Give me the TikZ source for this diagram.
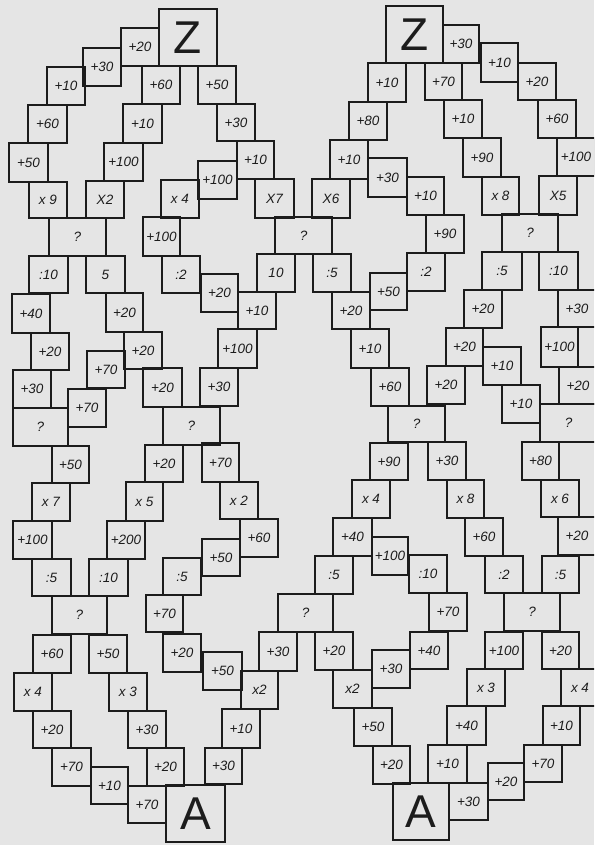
\documentclass[tikz,border=0pt]{standalone}
\usepackage{fontspec}
\setmainfont{Liberation Sans}
\definecolor{paper}{RGB}{229,229,229}
\definecolor{ink}{RGB}{28,28,28}
\tikzset{
  cell/.style={draw=ink, line width=1.4pt, rectangle, inner sep=0pt, outer sep=0pt,
    text=ink, font=\fontsize{13.5}{14}\selectfont\itshape},
  bigcell/.style={font=\fontsize{46}{46}\selectfont}
}
\newcommand\cellbox[7][]{\node[cell,#1,minimum width={(#5-#3)*1pt},minimum height={(#6-#4)*1pt}] (#2) at ({(#3+#5)/2},{(#4+#6)/2}) {#7};}
\begin{document}
\begin{tikzpicture}[x=1pt,y=-1pt]
\fill[paper] (0,0) rectangle (594,845);
\clip (0,0) rectangle (594,845);
\useasboundingbox (0,0) rectangle (594,845);
% ---------------- left diamond, top
\cellbox[bigcell]{zl}{159}{9}{217}{66}{Z}
\cellbox{c1}{121}{28}{159}{66}{+20}
\cellbox{c2}{83}{48}{121}{86}{+30}
\cellbox{c3}{47}{67}{85}{105}{+10}
\cellbox{c4}{28}{105}{67}{143}{+60}
\cellbox{c5}{9}{143}{48}{182}{+50}
\cellbox{c6}{29}{182}{67}{218}{x 9}
\cellbox{c7}{142}{66}{180}{104}{+60}
\cellbox{c8}{123}{104}{162}{143}{+10}
\cellbox{c9}{104}{143}{143}{181}{+100}
\cellbox{c10}{86}{181}{124}{218}{X2}
\cellbox{c11}{198}{66}{236}{104}{+50}
\cellbox{c12}{217}{104}{255}{141}{+30}
\cellbox{c13}{237}{141}{274}{179}{+10}
\cellbox{c14}{255}{179}{294}{218}{X7}
\cellbox{c15}{198}{161}{237}{199}{+100}
\cellbox{c16}{161}{180}{199}{218}{x 4}
\cellbox{c17}{143}{217}{180}{256}{+100}
\cellbox{c18}{162}{256}{200}{293}{:2}
\cellbox{c19}{49}{218}{106}{256}{?}
\cellbox{c20}{29}{256}{68}{293}{:10}
\cellbox{c21}{86}{256}{125}{293}{5}
\cellbox{c22}{12}{294}{50}{333}{+40}
\cellbox{c23}{31}{333}{69}{370}{+20}
\cellbox{c24}{13}{370}{51}{408}{+30}
\cellbox{c25}{13}{408}{68}{446}{?}
\cellbox{c26}{106}{293}{143}{332}{+20}
\cellbox{c27}{124}{332}{162}{369}{+20}
\cellbox{c28}{87}{351}{125}{388}{+70}
\cellbox{c29}{68}{389}{106}{427}{+70}
\cellbox{c30}{143}{368}{182}{407}{+20}
\cellbox{c31}{163}{407}{220}{445}{?}
% ---------------- centre top
\cellbox{c32}{275}{217}{332}{254}{?}
\cellbox{c33}{257}{254}{295}{292}{10}
\cellbox{c34}{313}{254}{351}{292}{:5}
\cellbox{c35}{201}{274}{238}{312}{+20}
\cellbox{c36}{238}{292}{276}{329}{+10}
\cellbox{c37}{218}{329}{257}{368}{+100}
\cellbox{c38}{200}{368}{238}{406}{+30}
\cellbox{c39}{332}{292}{370}{329}{+20}
\cellbox{c40}{351}{329}{389}{368}{+10}
\cellbox{c41}{371}{368}{409}{406}{+60}
\cellbox{c42}{370}{273}{407}{310}{+50}
% ---------------- left diamond, bottom
\cellbox{c43}{52}{446}{89}{483}{+50}
\cellbox{c44}{32}{483}{70}{521}{x 7}
\cellbox{c45}{13}{521}{52}{559}{+100}
\cellbox{c46}{32}{559}{71}{596}{:5}
\cellbox{c47}{52}{596}{107}{634}{?}
\cellbox{c48}{89}{559}{128}{596}{:10}
\cellbox{c49}{107}{521}{145}{559}{+200}
\cellbox{c50}{126}{482}{163}{521}{x 5}
\cellbox{c51}{145}{445}{183}{482}{+20}
\cellbox{c52}{202}{443}{239}{482}{+70}
\cellbox{c53}{220}{482}{258}{519}{x 2}
\cellbox{c54}{240}{519}{278}{557}{+60}
\cellbox{c55}{202}{539}{240}{576}{+50}
\cellbox{c56}{163}{558}{201}{595}{:5}
\cellbox{c57}{146}{595}{183}{632}{+70}
\cellbox{c58}{163}{634}{201}{672}{+20}
\cellbox{c59}{33}{635}{71}{673}{+60}
\cellbox{c60}{89}{635}{127}{673}{+50}
\cellbox{c61}{14}{673}{52}{711}{x 4}
\cellbox{c62}{109}{673}{147}{711}{x 3}
\cellbox{c63}{33}{711}{71}{748}{+20}
\cellbox{c64}{128}{711}{166}{748}{+30}
\cellbox{c65}{52}{748}{91}{786}{+70}
\cellbox{c66}{147}{748}{184}{786}{+20}
\cellbox{c67}{91}{767}{128}{804}{+10}
\cellbox{c68}{128}{786}{166}{823}{+70}
\cellbox[bigcell]{al}{166}{785}{225}{842}{A}
\cellbox{c69}{205}{748}{242}{784}{+30}
\cellbox{c70}{222}{709}{260}{748}{+10}
\cellbox{c71}{241}{671}{278}{709}{x2}
\cellbox{c72}{259}{632}{297}{671}{+30}
\cellbox{c73}{203}{652}{242}{690}{+50}
% ---------------- centre bottom and right diamond, bottom
\cellbox{c74}{278}{594}{333}{632}{?}
\cellbox{c75}{315}{556}{353}{594}{:5}
\cellbox{c76}{333}{518}{372}{556}{+40}
\cellbox{c77}{352}{480}{390}{518}{x 4}
\cellbox{c78}{370}{443}{408}{480}{+90}
\cellbox{c79}{372}{537}{408}{575}{+100}
\cellbox{c80}{409}{555}{447}{593}{:10}
\cellbox{c81}{429}{593}{467}{631}{+70}
\cellbox{c82}{410}{632}{448}{669}{+40}
\cellbox{c83}{372}{650}{410}{688}{+30}
\cellbox{c84}{315}{632}{353}{670}{+20}
\cellbox{c85}{333}{670}{372}{708}{x2}
\cellbox{c86}{354}{708}{392}{746}{+50}
\cellbox{c87}{373}{746}{410}{784}{+20}
\cellbox[bigcell]{ar}{393}{783}{449}{840}{A}
\cellbox{c88}{428}{745}{467}{783}{+10}
\cellbox{c89}{447}{706}{486}{745}{+40}
\cellbox{c90}{467}{669}{505}{706}{x 3}
\cellbox{c91}{485}{632}{523}{669}{+100}
\cellbox{c92}{504}{593}{560}{631}{?}
\cellbox{c93}{485}{556}{523}{593}{:2}
\cellbox{c94}{542}{556}{579}{593}{:5}
\cellbox{c95}{465}{518}{503}{556}{+60}
\cellbox{c96}{447}{480}{484}{518}{x 8}
\cellbox{c97}{428}{442}{466}{480}{+30}
\cellbox{c98}{388}{406}{445}{442}{?}
\cellbox{c99}{522}{442}{559}{480}{+80}
\cellbox{c100}{541}{480}{579}{517}{x 6}
\cellbox{c101}{558}{517}{596}{555}{+20}
\cellbox{c102}{542}{632}{579}{669}{+20}
\cellbox{c103}{561}{669}{599}{706}{x 4}
\cellbox{c104}{543}{706}{580}{745}{+10}
\cellbox{c105}{524}{745}{562}{782}{+70}
\cellbox{c106}{488}{763}{524}{800}{+20}
\cellbox{c107}{449}{783}{488}{820}{+30}
% ---------------- right diamond, top
\cellbox[bigcell]{zr}{386}{6}{443}{63}{Z}
\cellbox{c108}{443}{25}{479}{63}{+30}
\cellbox{c109}{481}{43}{518}{82}{+10}
\cellbox{c110}{518}{63}{556}{100}{+20}
\cellbox{c111}{538}{100}{576}{138}{+60}
\cellbox{c112}{557}{138}{595}{176}{+100}
\cellbox{c113}{539}{176}{577}{215}{X5}
\cellbox{c114}{425}{63}{462}{100}{+70}
\cellbox{c115}{444}{100}{482}{138}{+10}
\cellbox{c116}{463}{138}{501}{177}{+90}
\cellbox{c117}{482}{177}{519}{215}{x 8}
\cellbox{c118}{368}{63}{406}{102}{+10}
\cellbox{c119}{349}{102}{387}{140}{+80}
\cellbox{c120}{330}{140}{368}{179}{+10}
\cellbox{c121}{312}{179}{350}{218}{X6}
\cellbox{c122}{368}{158}{407}{197}{+30}
\cellbox{c123}{407}{177}{444}{215}{+10}
\cellbox{c124}{426}{215}{464}{253}{+90}
\cellbox{c125}{407}{253}{445}{291}{:2}
\cellbox{c126}{502}{214}{558}{252}{?}
\cellbox{c127}{482}{252}{522}{290}{:5}
\cellbox{c128}{539}{252}{578}{290}{:10}
\cellbox{c129}{464}{290}{502}{328}{+20}
\cellbox{c130}{446}{328}{483}{366}{+20}
\cellbox{c131}{483}{347}{521}{385}{+10}
\cellbox{c132}{427}{366}{465}{404}{+20}
\cellbox{c133}{502}{385}{540}{423}{+10}
\cellbox{c134}{558}{290}{596}{327}{+30}
\cellbox{c135}{541}{327}{578}{367}{+100}
\cellbox{c136}{559}{367}{597}{404}{+20}
\cellbox{c137}{540}{404}{597}{442}{?}
\end{tikzpicture}
\end{document}
